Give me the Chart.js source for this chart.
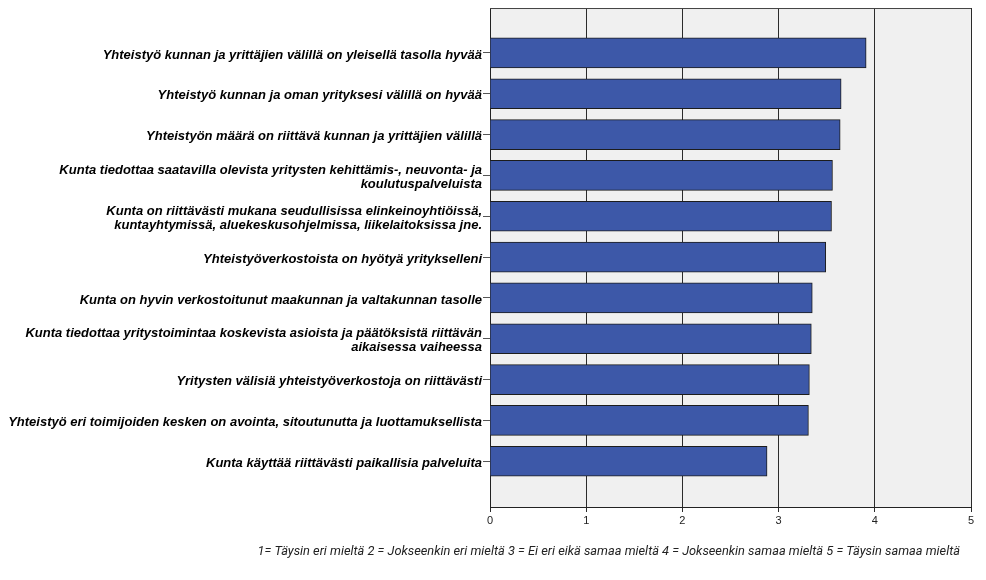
<!DOCTYPE html>
<html><head><meta charset="utf-8">
<script src="https://cdn.jsdelivr.net/npm/chart.js@4"></script>
<style>html,body{margin:0;padding:0;background:#fff}</style>
</head><body>
<canvas id="c" width="986" height="580"></canvas>
<script>
const categories = [
  ["Yhteistyö kunnan ja yrittäjien välillä on yleisellä tasolla hyvää"],
  ["Yhteistyö kunnan ja oman yrityksesi välillä on hyvää"],
  ["Yhteistyön määrä on riittävä kunnan ja yrittäjien välillä"],
  ["Kunta tiedottaa saatavilla olevista yritysten kehittämis-, neuvonta- ja", "koulutuspalveluista"],
  ["Kunta on riittävästi mukana seudullisissa elinkeinoyhtiöissä,", "kuntayhtymissä, aluekeskusohjelmissa, liikelaitoksissa jne."],
  ["Yhteistyöverkostoista on hyötyä yritykselleni"],
  ["Kunta on hyvin verkostoitunut maakunnan ja valtakunnan tasolle"],
  ["Kunta tiedottaa yritystoimintaa koskevista asioista ja päätöksistä riittävän", "aikaisessa vaiheessa"],
  ["Yritysten välisiä yhteistyöverkostoja on riittävästi"],
  ["Yhteistyö eri toimijoiden kesken on avointa, sitoutunutta ja luottamuksellista"],
  ["Kunta käyttää riittävästi paikallisia palveluita"]
];
const means = [3.91, 3.65, 3.64, 3.56, 3.55, 3.49, 3.35, 3.34, 3.32, 3.31, 2.88];
const xTicks = [0, 1, 2, 3, 4, 5];
const caption = "1= Täysin eri mieltä 2 = Jokseenkin eri mieltä 3 = Ei eri eikä samaa mieltä 4 = Jokseenkin samaa mieltä 5 = Täysin samaa mieltä";

const plotFrame = {
  id: 'plotFrame',
  beforeDraw(chart) {
    const {ctx, chartArea: a} = chart;
    ctx.save();
    ctx.fillStyle = '#f0f0f0';
    ctx.fillRect(a.left, a.top, a.right - a.left, a.bottom - a.top);
    ctx.restore();
  },
  beforeDatasetsDraw(chart) {
    const {ctx, chartArea: a} = chart;
    ctx.save();
    ctx.strokeStyle = '#444';
    ctx.lineWidth = 1;
    ctx.beginPath();
    ctx.moveTo(a.left, a.top + 0.5);
    ctx.lineTo(a.right, a.top + 0.5);
    ctx.stroke();
    ctx.restore();
  },
  afterDraw(chart) {
    const {ctx, chartArea: a} = chart;
    ctx.save();
    ctx.font = 'italic 12.8px Roboto';
    ctx.fillStyle = '#222';
    ctx.textAlign = 'right';
    ctx.textBaseline = 'middle';
    ctx.fillText(caption, a.right - 11, chart.height - 28);
    ctx.restore();
  }
};

new Chart(document.getElementById('c'), {
  type: 'bar',
  data: {
    datasets: [{
      data: means.map((v, i) => ({x: v, y: i})),
      backgroundColor: '#3d58a8',
      borderColor: '#1c1c1c',
      borderWidth: 1,
      barThickness: 30
    }]
  },
  options: {
    indexAxis: 'y',
    responsive: false,
    animation: false,
    layout: {padding: {top: 7, right: 15, left: 0, bottom: 0}},
    plugins: {legend: {display: false}, tooltip: {enabled: false}},
    scales: {
      x: {
        type: 'linear', position: 'bottom', min: 0, max: 5,
        afterBuildTicks: s => { s.ticks = xTicks.map(v => ({value: v})); },
        afterFit: s => { s.height = 73; },
        ticks: {font: {family: 'Arial', size: 11}, color: '#222', padding: 2, maxRotation: 0},
        grid: {color: '#2b2b2b', lineWidth: 1, tickLength: 5},
        border: {color: '#222'}
      },
      y: {
        type: 'linear', reverse: true, min: -1.1, max: 11.12, offset: false,
        afterBuildTicks: s => { s.ticks = categories.map((c, i) => ({value: i})); },
        afterFit: s => { s.width = 490; },
        ticks: {
          callback: v => categories[v],
          autoSkip: false,
          labelOffset: 2,
          font: {family: 'Arial', size: 13, weight: 'bold', style: 'italic', lineHeight: 1.08},
          color: '#000', padding: 1
        },
        grid: {drawOnChartArea: false, offset: false, tickLength: 7, color: '#555'},
        border: {color: '#222'}
      }
    }
  },
  plugins: [plotFrame]
});
</script>
</body></html>
